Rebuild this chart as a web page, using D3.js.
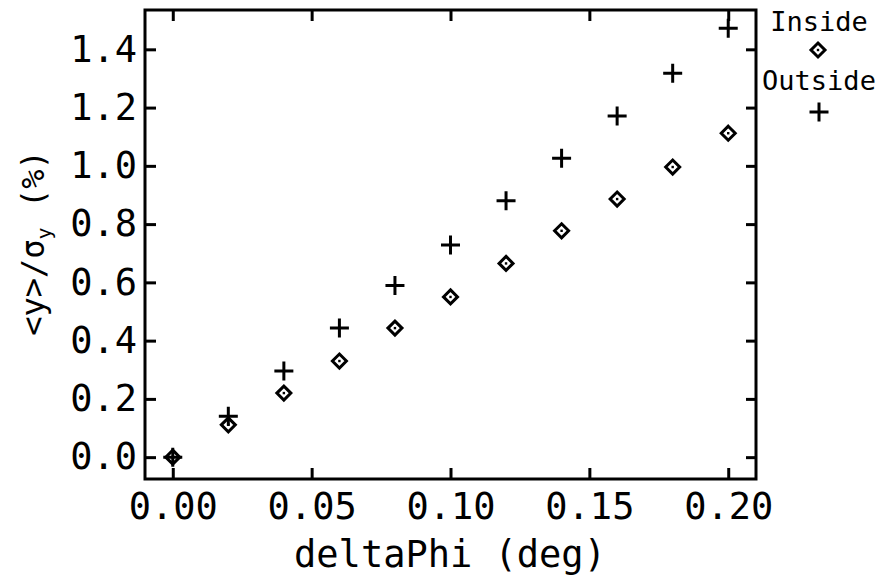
<!DOCTYPE html>
<html>
<head>
<meta charset="utf-8">
<script src="https://cdn.jsdelivr.net/npm/d3@7"></script>
<style>
  html, body { margin: 0; padding: 0; background: #fff; }
  svg { display: block; }
  text { font-family: "DejaVu Sans Mono", monospace; fill: #000; }
</style>
</head>
<body>
<svg id="chart" width="886" height="578"></svg>
<script>
// ---- data ----
const deltaPhi = [0.00, 0.02, 0.04, 0.06, 0.08, 0.10, 0.12, 0.14, 0.16, 0.18, 0.20];
const insideValues = [0.000, 0.111, 0.220, 0.330, 0.443, 0.550, 0.665, 0.777, 0.886, 0.996, 1.112];
const outsideValues = [0.000, 0.140, 0.296, 0.443, 0.589, 0.728, 0.880, 1.026, 1.171, 1.318, 1.472];
const xTicks = [0.00, 0.05, 0.10, 0.15, 0.20];
const yTicks = [0.0, 0.2, 0.4, 0.6, 0.8, 1.0, 1.2, 1.4];
const seriesNames = ["Inside", "Outside"];

const svg = d3.select("#chart");
const L = 145, R = 756, T = 10, B = 479;

const x = d3.scaleLinear().domain([-0.01, 0.21]).range([L, R]);
const y = d3.scaleLinear().domain([-0.075, 1.535]).range([B, T]);

const axisStyle = g => {
  g.select(".domain").remove();
  g.selectAll(".tick line").attr("stroke", "#000").attr("stroke-width", 3);
};

// bottom axis
svg.append("g").attr("transform", `translate(0,${B})`)
  .call(d3.axisBottom(x).tickValues(xTicks).tickFormat(d3.format(".2f"))
        .tickSizeInner(-11).tickSizeOuter(0).tickPadding(14))
  .call(axisStyle)
  .call(g => g.selectAll(".tick text").attr("font-size", 37).attr("font-family", "DejaVu Sans Mono").attr("dy", "0.71em"));

// top axis (ticks only)
svg.append("g").attr("transform", `translate(0,${T})`)
  .call(d3.axisTop(x).tickValues(xTicks).tickFormat("").tickSizeInner(-11).tickSizeOuter(0))
  .call(axisStyle);

// left axis
svg.append("g").attr("transform", `translate(${L},0)`)
  .call(d3.axisLeft(y).tickValues(yTicks).tickFormat(d3.format(".1f"))
        .tickSizeInner(-11).tickSizeOuter(0).tickPadding(8))
  .call(axisStyle)
  .call(g => g.selectAll(".tick text").attr("font-size", 37).attr("font-family", "DejaVu Sans Mono"));

// right axis (ticks only)
svg.append("g").attr("transform", `translate(${R},0)`)
  .call(d3.axisRight(y).tickValues(yTicks).tickFormat("").tickSizeInner(-10).tickSizeOuter(0))
  .call(axisStyle);

// frame
svg.append("rect").attr("x", L).attr("y", T).attr("width", R - L).attr("height", B - T)
  .attr("fill", "none").attr("stroke", "#000").attr("stroke-width", 3);

// markers
function diamond(g, cx, cy) {
  const s = 7;
  g.append("path")
    .attr("d", `M${cx},${cy - s}L${cx + s},${cy}L${cx},${cy + s}L${cx - s},${cy}Z`)
    .attr("fill", "#fff").attr("stroke", "#000").attr("stroke-width", 3);
  g.append("rect").attr("x", cx - 1.2).attr("y", cy - 1.2).attr("width", 2.4).attr("height", 2.4).attr("fill", "#000");
}
function plus(g, cx, cy) {
  const s = 9.5;
  g.append("path")
    .attr("d", `M${cx - s},${cy}H${cx + s}M${cx},${cy - s}V${cy + s}`)
    .attr("fill", "none").attr("stroke", "#000").attr("stroke-width", 3);
}

const pts = svg.append("g");
deltaPhi.forEach((d, i) => diamond(pts, x(d), y(insideValues[i])));
deltaPhi.forEach((d, i) => plus(pts, x(d), y(outsideValues[i])));

// legend
const lg = svg.append("g");
lg.append("text").attr("x", 819).attr("y", 31).attr("text-anchor", "middle").attr("font-size", 27).text(seriesNames[0]);
diamond(lg, 818, 50);
lg.append("text").attr("x", 819).attr("y", 90).attr("text-anchor", "middle").attr("font-size", 27).text(seriesNames[1]);
plus(lg, 819, 112);

// x title
svg.append("text").attr("x", 450).attr("y", 567).attr("text-anchor", "middle")
  .attr("font-size", 37).text("deltaPhi (deg)");

// y title
const yt = svg.append("text").attr("transform", "translate(44,243) rotate(-90)")
  .attr("text-anchor", "middle").attr("font-size", 32);
yt.append("tspan").text("<y>/σ");
yt.append("tspan").attr("font-size", 20).attr("dy", 7).text("y");
yt.append("tspan").attr("dy", -7).text(" (%)");
</script>
</body>
</html>
